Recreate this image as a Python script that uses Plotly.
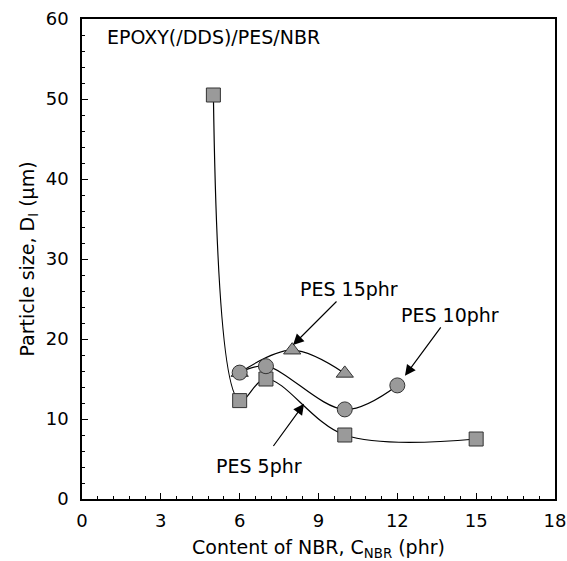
import plotly.graph_objects as go

# Data
pes5_x = [5, 6, 7, 10, 15]
pes5_y = [50.5, 12.3, 15.0, 8.0, 7.5]

pes10_x = [6, 7, 10, 12]
pes10_y = [15.8, 16.6, 11.2, 14.2]

pes15_x = [6, 8, 10]
pes15_y = [15.8, 18.6, 15.7]

x_ticks = [0, 3, 6, 9, 12, 15, 18]
y_ticks = [0, 10, 20, 30, 40, 50, 60]

FONT = "DejaVu Sans"
fill = "#9a9a9a"

fig = go.Figure()

def add_series(x, y, symbol, size, smoothing):
    fig.add_trace(go.Scatter(
        x=x, y=y, mode="lines+markers",
        line=dict(color="black", width=1.2, shape="spline", smoothing=smoothing),
        marker=dict(symbol=symbol, size=size, color=fill,
                    line=dict(color="#333333", width=1)),
        showlegend=False, cliponaxis=False))

add_series(pes15_x, pes15_y, "triangle-up", 15, 1.0)
add_series(pes5_x, pes5_y, "square", 14, 1.0)
add_series(pes10_x, pes10_y, "circle", 15, 1.0)

lab_font = dict(size=19, family=FONT, color="black")
annotations = [
    dict(x=0.875, y=57.75, text="EPOXY(/DDS)/PES/NBR", showarrow=False,
         xanchor="left", yanchor="middle", font=lab_font),
    # labels with arrows: (tip x, tip y) in data, text offset in pixels
    dict(x=8.03, y=19.25, ax=56, ay=-56, text="PES 15phr", showarrow=True,
         arrowhead=2, arrowsize=1.8, arrowwidth=1.2, arrowcolor="black",
         font=lab_font),
    dict(x=12.29, y=15.4, ax=45, ay=-61, text="PES 10phr", showarrow=True,
         arrowhead=2, arrowsize=1.8, arrowwidth=1.2, arrowcolor="black",
         font=lab_font),
    dict(x=8.45, y=11.9, ax=-45, ay=62, text="PES 5phr", showarrow=True,
         arrowhead=2, arrowsize=1.8, arrowwidth=1.2, arrowcolor="black",
         startstandoff=9, font=lab_font),
]

axis_common = dict(
    showgrid=False, zeroline=False, showline=True, linecolor="black",
    linewidth=1.5, mirror=True, ticks="inside", ticklen=6, tickwidth=1.2,
    tickcolor="black", automargin=False,
    tickfont=dict(size=18, family=FONT, color="black"),
)

fig.update_layout(
    width=567, height=561,
    margin=dict(l=82, r=12, t=19, b=62),
    paper_bgcolor="white", plot_bgcolor="white",
    font=dict(family=FONT, color="black"),
    annotations=annotations,
    xaxis=dict(range=[0, 18], tickvals=x_ticks, ticklabelstandoff=5,
               minor=dict(dtick=0.6, ticks="inside", ticklen=3, tickcolor="black"),
               title=dict(text="Content of NBR, C<sub>NBR</sub> (phr)",
                          font=dict(size=19, family=FONT), standoff=10),
               **axis_common),
    yaxis=dict(range=[0, 60], tickvals=y_ticks, ticklabelstandoff=8,
               minor=dict(dtick=2, ticks="inside", ticklen=3, tickcolor="black"),
               title=dict(text="Particle size, D<sub>I</sub> (μm)",
                          font=dict(size=19, family=FONT), standoff=6),
               **axis_common),
)

fig.write_html("out.html")
